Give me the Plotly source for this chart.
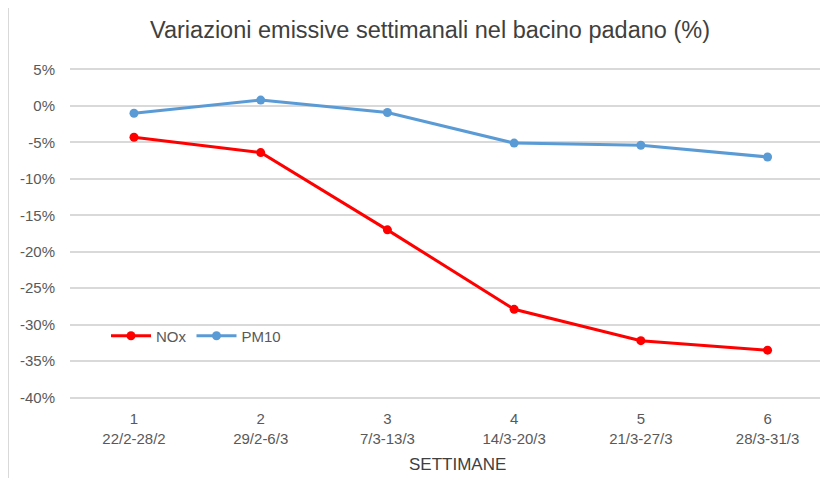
import plotly.graph_objects as go

weeks = ["1", "2", "3", "4", "5", "6"]
periods = ["22/2-28/2", "29/2-6/3", "7/3-13/3", "14/3-20/3", "21/3-27/3", "28/3-31/3"]
nox = [-4.3, -6.4, -17.0, -27.9, -32.2, -33.5]
pm10 = [-1.0, 0.8, -0.9, -5.1, -5.4, -7.0]
y_ticks = [5, 0, -5, -10, -15, -20, -25, -30, -35, -40]

xlabels = [f"{w}<br>{p}" for w, p in zip(weeks, periods)]
xs = list(range(len(weeks)))

W, H = 828, 478
L, R, T, B = 62, 8, 60, 87
PW, PH = W - L - R, H - T - B

fig = go.Figure()
fig.add_trace(go.Scatter(x=xs, y=nox, name="NOx", mode="lines+markers",
                         line=dict(color="#FF0000", width=3),
                         marker=dict(size=9, color="#FF0000")))
fig.add_trace(go.Scatter(x=xs, y=pm10, name="PM10", mode="lines+markers",
                         line=dict(color="#5B9BD5", width=3),
                         marker=dict(size=9, color="#5B9BD5")))

fig.update_layout(
    width=W, height=H,
    margin=dict(l=L, r=R, t=T, b=B),
    paper_bgcolor="white", plot_bgcolor="white",
    font=dict(family="Liberation Sans, Arial, sans-serif", color="#595959"),
    title=dict(text="Variazioni emissive settimanali nel bacino padano (%)",
               x=422 / W, xanchor="center", y=1 - 22 / H, yanchor="middle",
               font=dict(size=23.5, color="#404040")),
    showlegend=True,
    legend=dict(orientation="h", x=(98 - L) / PW, y=(T + PH - 328) / PH,
                xanchor="left", yanchor="middle", bgcolor="rgba(0,0,0,0)",
                font=dict(size=15, color="#595959"), itemwidth=40,
                tracegroupgap=0),
)
fig.update_xaxes(range=[-0.505, 5.477], tickmode="array", tickvals=xs, ticktext=xlabels,
                 showgrid=False, zeroline=False, showline=False,
                 tickfont=dict(size=15, color="#595959"), ticklabelstandoff=9)
fig.update_yaxes(range=[-40.2, 5.2], tickmode="array", tickvals=y_ticks,
                 ticktext=[f"{v}%" for v in y_ticks],
                 showgrid=True, gridcolor="#D9D9D9", gridwidth=1.5,
                 zeroline=False, showline=False,
                 tickfont=dict(size=15, color="#595959"), ticklabelstandoff=14)

fig.add_annotation(text="SETTIMANE", xref="paper", yref="paper",
                   x=(449 - L) / PW, y=-(457 - T - PH) / PH,
                   xanchor="center", yanchor="middle", showarrow=False,
                   font=dict(size=17, color="#404040"))

fig.add_shape(type="line", xref="paper", yref="paper",
              x0=-(L - 0.5) / PW, x1=-(L - 0.5) / PW, y0=-B / PH, y1=(PH + T) / PH,
              line=dict(color="#D9D9D9", width=1))

fig.write_html("out.html")
